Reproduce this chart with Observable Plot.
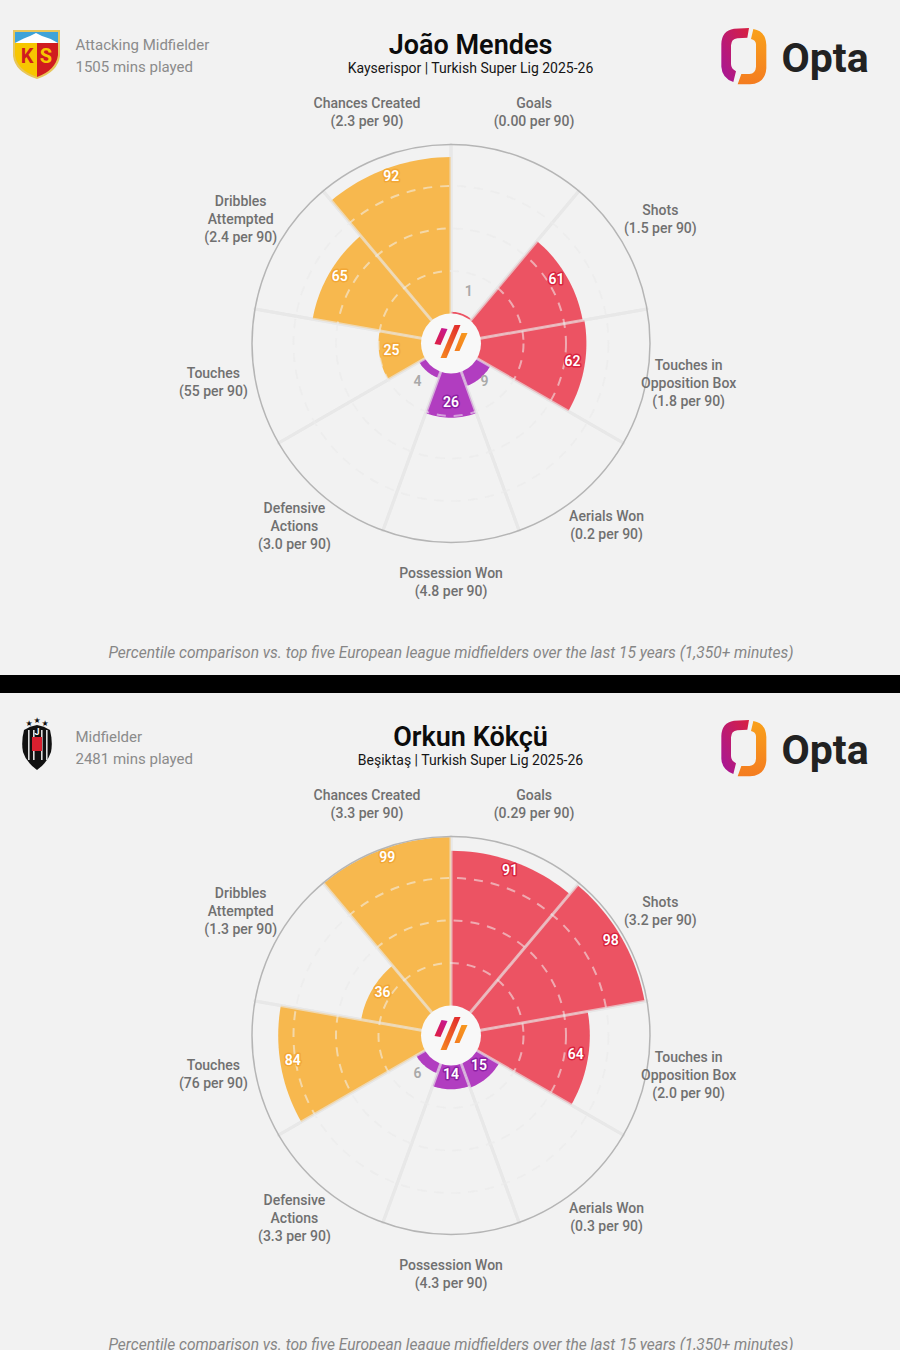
<!DOCTYPE html>
<html><head><meta charset="utf-8">
<script src="https://cdn.jsdelivr.net/npm/d3@7"></script>
<script src="https://cdn.jsdelivr.net/npm/@observablehq/plot@0.6"></script>
<style>html,body{margin:0;padding:0;background:#f2f2f2;overflow:hidden}svg{display:block}</style>
</head><body><div id="chart"></div>
<script>
// ---- data ----
const categories = ["Goals","Shots","Touches in\nOpposition Box","Aerials Won","Possession Won","Defensive\nActions","Touches","Dribbles\nAttempted","Chances Created"];
const groups = ["attack","attack","attack","defence","defence","defence","creative","creative","creative"];
const mendesPercentiles = [1,61,62,9,26,4,25,65,92];
const mendesPer90 = ["0.00","1.5","1.8","0.2","4.8","3.0","55","2.4","2.3"];
const kokcuPercentiles = [91,98,64,15,14,6,84,36,99];
const kokcuPer90 = ["0.29","3.2","2.0","0.3","4.3","3.3","76","1.3","3.3"];
const ringValues = [25,50,75];
const players = [
  {name:"João Mendes", sub:"Kayserispor | Turkish Super Lig 2025-26", role:"Attacking Midfielder", mins:"1505 mins played", pct:mendesPercentiles, per90:mendesPer90},
  {name:"Orkun Kökçü", sub:"Beşiktaş | Turkish Super Lig 2025-26", role:"Midfielder", mins:"2481 mins played", pct:kokcuPercentiles, per90:kokcuPer90}
];
const caption = "Percentile comparison vs. top five European league midfielders over the last 15 years (1,350+ minutes)";

// ---- layout ----
const FONT = "Roboto, sans-serif";
const CX = 450.5, CY = 343, OFFSET = 692, HUB = 30, SPAN = 170, OUTER = 199, STEP = 40;
const labelNudge = [[-1,-1],[-2,-3],[0,-3],[2,-2],[0,0],[-3,-1],[0,-4],[1,-3],[0,-1]];
const rad = v => HUB + SPAN * v / 100;
const polar = (deg, r, dy) => ({x: CX + r * Math.sin(deg * Math.PI / 180), y: CY + dy + -r * Math.cos(deg * Math.PI / 180)});

const wedgePts = [], valueLabels = [], catLabels = [], spokes = [];
players.forEach((p, pi) => {
  const dy = pi * OFFSET;
  categories.forEach((c, i) => {
    const a0 = i * STEP, a1 = a0 + STEP, mid = a0 + STEP / 2, v = p.pct[i], r = rad(v);
    const id = pi + "-" + i;
    wedgePts.push({id, group: groups[i], ...polar(mid, 0, dy)});
    for (let a = a0; a <= a1; a += 2) wedgePts.push({id, group: groups[i], ...polar(a, r, dy)});
    const outside = v < 10;
    const lp = polar(mid, outside ? 52 : r - 12, dy);
    const shift = outside && mid > 90 ? -1.5 : -3;
    valueLabels.push({v, outside, group: groups[i], halo: groups[i] + "Halo", x: lp.x, y: lp.y + shift});
    const lr = 242 + 4 * Math.cos(mid * Math.PI / 180);
    const cp = polar(mid, lr, dy);
    catLabels.push({text: c + "\n(" + p.per90[i] + " per 90)", x: cp.x + labelNudge[i][0], y: cp.y + labelNudge[i][1]});
    [0, 1].forEach(k => spokes.push({id: id + "s", ...polar(a0, k ? OUTER : HUB, dy)}));
  });
});
const centers = players.map((p, pi) => ({...p, x: CX, y: CY + pi * OFFSET, dy: pi * OFFSET}));
const rings = centers.flatMap(c => ringValues.map(v => ({x: c.x, y: c.y, r: rad(v)})));

// ---- logo drawing (decorative glyphs) ----
function decorations(index, {x, y}) {
  const g = d3.create("svg:g");
  const defs = g.append("defs");
  const grad = (id, x1, y1, x2, y2, stops) => {
    const l = defs.append("linearGradient").attr("id", id).attr("x1", x1).attr("y1", y1).attr("x2", x2).attr("y2", y2);
    stops.forEach((s, i) => l.append("stop").attr("offset", i / (stops.length - 1)).attr("stop-color", s));
  };
  grad("gL", 1, 0, 0, 1, ["#d8203f", "#a4169c"]);
  grad("gR", 0, 0, 0, 1, ["#f9a11b", "#f47c20"]);
  grad("hA", 1, 0, 0, 1, ["#c4169a", "#e0203c"]);
  grad("hB", 1, 0, 0, 1, ["#e0262f", "#f78a1e"]);
  grad("hC", 1, 0, 0, 1, ["#f79a1e", "#f47c20"]);

  centers.forEach((c, i) => {
    // hub glyph
    const h = g.append("g").attr("transform", `translate(${x(c.x)},${y(c.y)})`);
    [["-16,1 -9,-15 -3,-14 -10,2", "hA"], ["-10,15 4,-18 10,-18 -4,15", "hB"], ["4,8 11,-10 17,-10 9,8", "hC"]]
      .forEach(([pts, f]) => h.append("polygon").attr("points", pts).attr("fill", `url(#${f})`));
    // Opta icon
    const o = g.append("g").attr("transform", `translate(${x(450)},${y(c.dy)}) scale(${1 / 3})`);
    o.append("path").attr("fill", "url(#gL)")
      .attr("d", "M897 84 L852 86 Q815 92 814 132 L814 200 Q816 234 850 246 L858 214 Q843 206 843 192 L843 136 Q844 117 862 115 L892 113 Z");
    o.append("path").attr("fill", "url(#gR)")
      .attr("d", "M910 87 Q948 94 949 135 L949 205 Q946 250 900 253 L863 253 L874 222 L898 222 Q917 220 918 200 L918 132 Q917 120 903 117 Z");
    // club crests
    const k = g.append("g").attr("transform", `translate(0,${y(c.dy)})`);
    if (i === 0) {
      k.append("path").attr("d", "M13 30 H60 V56 Q58 72 37 79 Q15 72 13 56 Z").attr("fill", "#e8c65a");
      k.append("path").attr("d", "M15 32 H37 V77 Q17 70 15 55 Z").attr("fill", "#f7c600");
      k.append("path").attr("d", "M37 32 H58 V55 Q56 70 37 77 Z").attr("fill", "#d01c1f");
      k.append("rect").attr("x", 15).attr("y", 32).attr("width", 43).attr("height", 11).attr("fill", "#3fa3d8");
      k.append("path").attr("d", "M15 43 Q24 38 30 36 L36 33 L42 36 Q50 38 58 43 Z").attr("fill", "#fff");
      k.append("text").attr("x", 27).attr("y", 63).attr("text-anchor", "middle").style("font", `bold 20px ${FONT}`).attr("fill", "#d01c1f").text("K");
      k.append("text").attr("x", 46).attr("y", 63).attr("text-anchor", "middle").style("font", `bold 20px ${FONT}`).attr("fill", "#f7c600").text("S");
    } else {
      k.append("path").attr("d", "M24 38 Q30 34 37 33 Q44 34 50 38 Q53 50 51 60 Q48 70 37 78 Q26 70 23 60 Q21 50 24 38 Z").attr("fill", "#111");
      [28, 33, 41, 46].forEach(sx => k.append("rect").attr("x", sx).attr("y", 38).attr("width", 1.6).attr("height", 30).attr("fill", "#ddd"));
      k.append("rect").attr("x", 32).attr("y", 45).attr("width", 10).attr("height", 14).attr("fill", "#d8202f");
      k.append("text").attr("x", 37).attr("y", 43).attr("text-anchor", "middle").style("font", `bold 9px ${FONT}`).attr("fill", "#fff").text("J");
      [[29, 31], [37, 28], [45, 31]].forEach(([sx, sy]) =>
        k.append("text").attr("x", sx).attr("y", sy + 3).attr("text-anchor", "middle").style("font", `8px "DejaVu Sans"`).attr("fill", "#111").text("★"));
    }
  });
  return g.node();
}

// ---- chart ----
const chart = Plot.plot({
  width: 900, height: 1350, margin: 0,
  style: {background: "#f2f2f2", fontFamily: FONT},
  x: {domain: [0, 900], range: [0, 900], axis: null},
  y: {domain: [0, 1350], range: [0, 1350], axis: null},
  r: {type: "identity"},
  color: {domain: ["attack", "defence", "creative", "attackHalo", "defenceHalo", "creativeHalo"],
          range: ["#ec5363", "#b13dc0", "#f7b84e", "#d9243f", "#8d1fa3", "#f2a735"]},
  marks: [
    // faint rings on the background
    Plot.dot(rings, {x: "x", y: "y", r: "r", stroke: "#e7e7e7", strokeWidth: 1.5, strokeDasharray: "9,8", fill: "none"}),
    Plot.line(spokes, {x: "x", y: "y", z: "id", stroke: "#e4e4e4", strokeWidth: 3}),
    Plot.line(wedgePts, {x: "x", y: "y", z: "id", fill: "group", stroke: "none"}),
    // rings and spokes over the bars
    Plot.dot(rings, {x: "x", y: "y", r: "r", stroke: "#f2f2f2", strokeOpacity: 0.55, strokeWidth: 2, strokeDasharray: "9,8", fill: "none"}),
    Plot.line(spokes, {x: "x", y: "y", z: "id", stroke: "#e9e9e9", strokeOpacity: 0.65, strokeWidth: 3}),
    Plot.dot(centers, {x: "x", y: "y", r: () => OUTER, stroke: "#b5b5b5", strokeWidth: 1.5, fill: "none"}),
    Plot.dot(centers, {x: "x", y: "y", r: () => HUB, fill: "#f8f8f8", stroke: "none"}),
    // value labels
    Plot.text(valueLabels.filter(d => !d.outside), {x: "x", y: "y", text: "v", fill: "#fff", stroke: "halo", strokeWidth: 3, fontSize: 14, fontWeight: 600}),
    Plot.text(valueLabels.filter(d => d.outside), {x: "x", y: "y", text: "v", fill: "#a9a9a9", fontSize: 14, fontWeight: 600}),
    // category labels
    Plot.text(catLabels, {x: "x", y: "y", text: "text", fill: "#707070", fontSize: 14, fontWeight: 500, lineHeight: 1.28}),
    // headers
    Plot.text(centers, {x: 470, y: d => 45 + d.dy, text: "name", fill: "#0c0c0c", fontSize: 27, fontWeight: 600}),
    Plot.text(centers, {x: 470, y: d => 68 + d.dy, text: "sub", fill: "#161616", fontSize: 14}),
    Plot.text(centers, {x: 75, y: d => 45 + d.dy, text: "role", textAnchor: "start", fill: "#8b8b8b", fontSize: 15}),
    Plot.text(centers, {x: 75, y: d => 67 + d.dy, text: "mins", textAnchor: "start", fill: "#8b8b8b", fontSize: 15}),
    Plot.text(centers, {x: 781, y: d => 58 + d.dy, text: () => "Opta", textAnchor: "start", fill: "#222", fontSize: 41, fontWeight: 700}),
    Plot.text(centers, {x: 450.5, y: d => 653 + d.dy, text: () => caption, fill: "#868686", fontSize: 15.55, fontStyle: "italic"}),
    // divider between the two panels
    Plot.rect([0], {x1: 0, x2: 900, y1: 675, y2: 693, fill: "#000"}),
    decorations
  ]
});
document.getElementById("chart").append(chart);
</script></body></html>
